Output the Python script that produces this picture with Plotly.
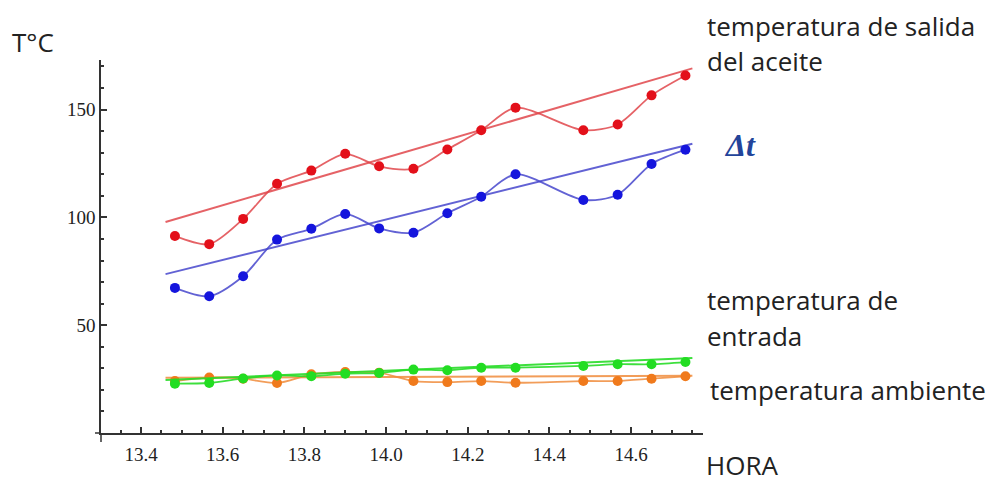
import plotly.graph_objects as go

# Data (hour as decimal)
hours = [13.483, 13.567, 13.650, 13.733, 13.817, 13.900, 13.983, 14.067,
         14.150, 14.233, 14.317, 14.483, 14.567, 14.650, 14.733]
salida = [91.4, 87.6, 99.3, 115.6, 121.7, 129.5, 123.7, 122.6,
          131.5, 140.4, 150.9, 140.4, 143.1, 156.6, 165.8]
delta_t = [67.3, 63.4, 72.7, 89.7, 94.7, 101.6, 94.9, 92.9,
           101.9, 109.6, 120.0, 108.1, 110.5, 124.8, 131.4]
entrada = [22.9, 23.2, 25.3, 26.7, 26.3, 27.5, 27.8, 29.4,
           29.1, 30.3, 30.3, 31.1, 31.9, 31.9, 32.9]
ambiente = [24.1, 25.7, 25.2, 23.2, 27.2, 28.3, 28.0, 24.1,
            23.6, 24.1, 23.3, 24.1, 24.1, 25.2, 26.3]

# Trend lines (end values)
fit_hours = [13.46, 14.75]
salida_fit = [97.9, 169.1]
delta_fit = [73.7, 134.2]
entrada_fit = [24.6, 34.8]
ambiente_fit = [25.6, 26.6]

y_ticks = [50, 100, 150]
x_ticks = [13.4, 13.6, 13.8, 14.0, 14.2, 14.4, 14.6]

fig = go.Figure()

series = [
    (salida, salida_fit, "#e3101a", "rgba(225,70,75,0.85)"),
    (delta_t, delta_fit, "#1515dd", "rgba(70,70,205,0.85)"),
    (ambiente, ambiente_fit, "#f07a1c", "rgba(240,140,60,0.85)"),
    (entrada, entrada_fit, "#22dd22", "rgba(40,220,40,0.9)"),
]

for vals, fit, mcol, lcol in series:
    fig.add_trace(go.Scatter(x=fit_hours, y=fit, mode="lines",
                             line=dict(color=lcol, width=2), hoverinfo="skip"))
    fig.add_trace(go.Scatter(x=hours, y=vals, mode="lines+markers",
                             line=dict(color=lcol, width=1.8, shape="spline", smoothing=0.8),
                             marker=dict(color=mcol, size=10)))

# page body has an 8px margin; plot area sits at x 101..703, y 60..433 in the window
L, T, R, B = 93, 52, 695, 425
W, H = 999, 484

fig.update_layout(
    width=W, height=H,
    margin=dict(l=L, r=W - R, t=T, b=H - B),
    paper_bgcolor="white", plot_bgcolor="white",
    showlegend=False,
    xaxis=dict(range=[13.302, 14.776], tickvals=x_ticks,
               ticktext=[f"{v:.1f}" for v in x_ticks],
               showgrid=False, zeroline=False, showline=True,
               linecolor="#333", linewidth=1.5,
               ticks="inside", ticklen=6, tickwidth=1.5, tickcolor="#333",
               ticklabelstandoff=3,
               minor=dict(dtick=0.05, tick0=13.4, ticks="inside", ticklen=3,
                          tickwidth=1.5, tickcolor="#333"),
               tickfont=dict(family="Liberation Serif", size=19, color="#222")),
    yaxis=dict(range=[0, 173], tickvals=y_ticks,
               showgrid=False, zeroline=False, showline=True,
               linecolor="#333", linewidth=1.5,
               ticks="inside", ticklen=6, tickwidth=1.5, tickcolor="#333",
               minor=dict(dtick=10, ticks="inside", ticklen=3,
                          tickwidth=1.5, tickcolor="#333"),
               tickfont=dict(family="Liberation Serif", size=19, color="#222")),
)

# small axis overhangs (Mathematica style)
fig.add_shape(type="line", xref="paper", yref="paper", x0=0, x1=0,
              y0=0, y1=-9 / (B - T), line=dict(color="#333", width=1.5))
fig.add_shape(type="line", xref="paper", yref="paper", x0=-6 / (R - L), x1=0,
              y0=0, y1=0, line=dict(color="#333", width=1.5))

font_lbl = dict(family="Open Sans", size=26, color="#222")
labels = [
    (706, 26, "temperatura de salida"),
    (706, 61, "del aceite"),
    (706, 300, "temperatura de"),
    (706, 336, "entrada"),
    (709, 390, "temperatura ambiente"),
    (705, 465, "HORA"),
    (11, 42, "T°C"),
]
for x, y, t in labels:
    fig.add_annotation(xref="paper", yref="paper",
                       x=(x - 8 - L) / (R - L), y=(B - (y - 8)) / (B - T),
                       text=t, showarrow=False, xanchor="left", yanchor="middle",
                       borderpad=0, font=font_lbl)
fig.add_annotation(xref="paper", yref="paper",
                   x=(722 - 8 - L) / (R - L), y=(B - (145 - 8)) / (B - T),
                   text="<b><i>Δt</i></b>", showarrow=False, xanchor="left",
                   yanchor="middle",
                   font=dict(family="Liberation Serif", size=32, color="#23449a"))

fig.write_html("out.html")
